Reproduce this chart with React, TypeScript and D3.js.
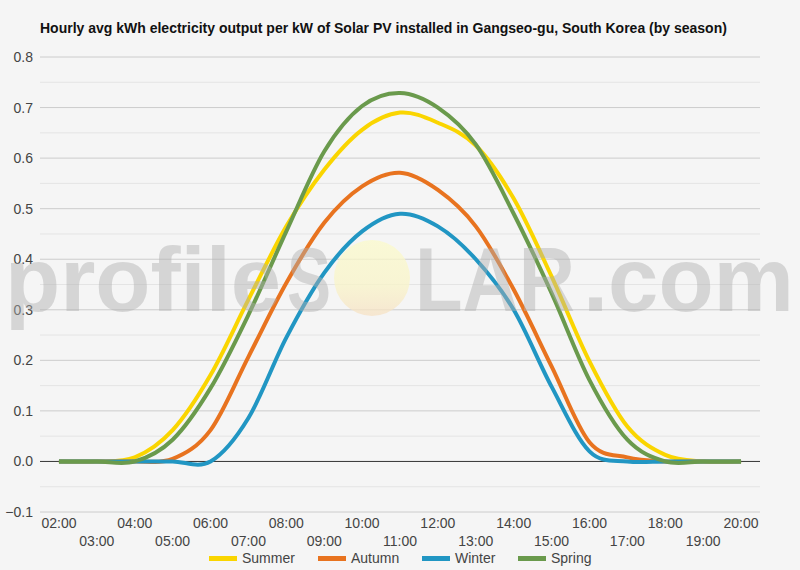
import { useRef, useEffect } from 'react';
import * as d3 from 'd3';

const hours = [
    '02:00', '03:00', '04:00', '05:00', '06:00', '07:00', '08:00', '09:00', '10:00', '11:00',
    '12:00', '13:00', '14:00', '15:00', '16:00', '17:00', '18:00', '19:00', '20:00',
];

const summer = [0, 0, 0.008, 0.062, 0.171, 0.32, 0.465, 0.577, 0.656, 0.69, 0.67, 0.625, 0.52, 0.366, 0.198, 0.069, 0.013, 0, 0];
const autumn = [0, 0, 0, 0.005, 0.062, 0.207, 0.353, 0.472, 0.544, 0.571, 0.537, 0.465, 0.34, 0.188, 0.038, 0.008, 0, 0, 0];
const winter = [0, 0, 0, 0, 0, 0.086, 0.245, 0.373, 0.455, 0.49, 0.465, 0.4, 0.3, 0.148, 0.02, 0, 0, 0, 0];
const spring = [0, 0, 0, 0.043, 0.145, 0.29, 0.455, 0.613, 0.703, 0.729, 0.7, 0.627, 0.49, 0.333, 0.161, 0.043, 0, 0, 0];

const seasons = ['Summer', 'Autumn', 'Winter', 'Spring'];
const seasonColors = ['#fad500', '#e8731f', '#2196c3', '#6a9a4c'];

const yTicks = [-0.1, 0, 0.1, 0.2, 0.3, 0.4, 0.5, 0.6, 0.7, 0.8];

const title = 'Hourly avg kWh electricity output per kW of Solar PV installed in Gangseo-gu, South Korea (by season)';

export default function App() {
    const svgRef = useRef<SVGSVGElement>(null);

    useEffect(() => {
        if (!svgRef.current) return;
        const width = 800;
        const height = 570;
        const margin = { top: 57, right: 40, bottom: 58, left: 40 };
        const innerWidth = width - margin.left - margin.right;
        const innerHeight = height - margin.top - margin.bottom;
        const font = 'Arial, "Liberation Sans", sans-serif';

        const svg = d3.select(svgRef.current);
        svg.selectAll('*').remove();

        svg.append('rect')
            .attr('width', width)
            .attr('height', height)
            .attr('fill', '#f5f5f5');

        const x = d3.scalePoint<string>()
            .domain(hours)
            .range([0, innerWidth])
            .padding(0.5);

        const y = d3.scaleLinear()
            .domain([-0.1, 0.8])
            .range([innerHeight, 0]);

        const g = svg.append('g')
            .attr('transform', `translate(${margin.left},${margin.top})`);

        // Minor grid
        g.append('g')
            .selectAll('line')
            .data(d3.range(-0.05, 0.8, 0.1))
            .enter()
            .append('line')
            .attr('x1', 0)
            .attr('x2', innerWidth)
            .attr('y1', d => y(d))
            .attr('y2', d => y(d))
            .attr('stroke', '#e4e4e4');

        // Major grid
        g.append('g')
            .selectAll('line')
            .data(yTicks)
            .enter()
            .append('line')
            .attr('x1', 0)
            .attr('x2', innerWidth)
            .attr('y1', d => y(d))
            .attr('y2', d => y(d))
            .attr('stroke', d => (d === 0 ? '#333' : '#cccccc'));

        // Y labels
        g.append('g')
            .selectAll('text')
            .data(yTicks)
            .enter()
            .append('text')
            .attr('x', -7)
            .attr('y', d => y(d) + 5)
            .attr('text-anchor', 'end')
            .attr('fill', '#444')
            .attr('font-family', font)
            .attr('font-size', '14px')
            .text(d => d3.format('.1f')(d));

        // X labels, staggered
        g.append('g')
            .selectAll('text')
            .data(hours)
            .enter()
            .append('text')
            .attr('x', d => x(d) as number)
            .attr('y', (d, i) => innerHeight + (i % 2 === 0 ? 16 : 34))
            .attr('text-anchor', 'middle')
            .attr('fill', '#444')
            .attr('font-family', font)
            .attr('font-size', '14px')
            .text(d => d);

        // Lines
        const line = d3.line<number>()
            .x((d, i) => x(hours[i]) as number)
            .y(d => y(d))
            .curve(d3.curveCatmullRom.alpha(0));

        [summer, autumn, winter, spring].forEach((series, i) => {
            g.append('path')
                .datum(series)
                .attr('fill', 'none')
                .attr('stroke', seasonColors[i])
                .attr('stroke-width', 4)
                .attr('d', line);
        });

        // Watermark
        const defs = svg.append('defs');
        const sun = defs.append('linearGradient')
            .attr('id', 'sunGradient')
            .attr('x1', '0%').attr('y1', '0%')
            .attr('x2', '0%').attr('y2', '100%');
        sun.append('stop').attr('offset', '0%').attr('stop-color', '#fbfacb');
        sun.append('stop').attr('offset', '60%').attr('stop-color', '#f9f4c8');
        sun.append('stop').attr('offset', '100%').attr('stop-color', '#f6e1c4');

        svg.append('circle')
            .attr('cx', 372)
            .attr('cy', 278)
            .attr('r', 38)
            .attr('fill', 'url(#sunGradient)')
            .attr('opacity', 0.75);

        const wmText = svg.append('g')
            .attr('fill', '#b0b0b0')
            .attr('opacity', 0.45)
            .attr('font-family', font)
            .attr('font-weight', 'bold')
            .attr('font-size', '90px');

        const wmParts = [
            { text: 'profile', x: 5, w: 276 },
            { text: 'S', x: 287, w: 44 },
            { text: 'LAR', x: 415, w: 160 },
            { text: '.com', x: 583, w: 211 },
        ];
        wmParts.forEach(p => {
            wmText.append('text')
                .attr('x', p.x)
                .attr('y', 311)
                .attr('textLength', p.w)
                .attr('lengthAdjust', 'spacingAndGlyphs')
                .text(p.text);
        });

        // Title
        svg.append('text')
            .attr('x', 40)
            .attr('y', 33)
            .attr('fill', '#111')
            .attr('font-family', font)
            .attr('font-size', '14px')
            .attr('font-weight', 'bold')
            .text(title);

        // Legend
        const legendX = [209, 318, 422, 518];
        const legend = svg.append('g');
        seasons.forEach((s, i) => {
            legend.append('rect')
                .attr('x', legendX[i])
                .attr('y', 556)
                .attr('width', 28)
                .attr('height', 5)
                .attr('fill', seasonColors[i]);
            legend.append('text')
                .attr('x', legendX[i] + 33)
                .attr('y', 563)
                .attr('fill', '#444')
                .attr('font-family', font)
                .attr('font-size', '14px')
                .text(s);
        });
    }, []);

    return (
        <svg
            ref={svgRef}
            width={800}
            height={570}
            style={{ display: 'block', position: 'absolute', left: 0, top: 0 }}
        />
    );
}
